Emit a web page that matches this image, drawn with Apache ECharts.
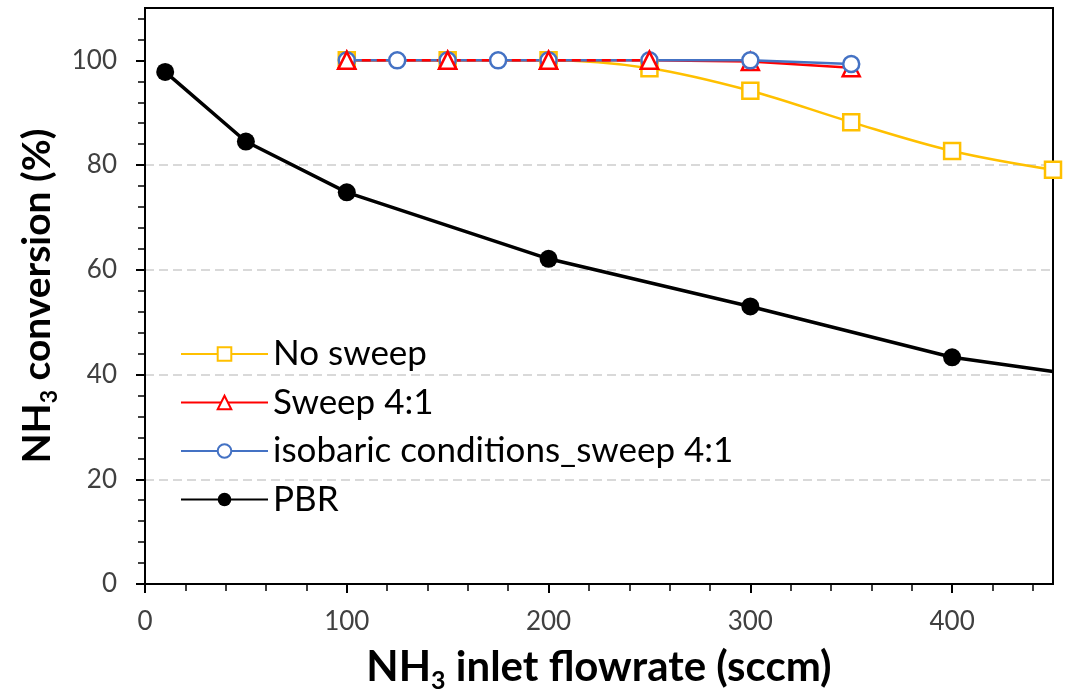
<!DOCTYPE html>
<html>
<head>
<meta charset="utf-8">
<script src="https://cdn.jsdelivr.net/npm/echarts@6/dist/echarts.min.js"></script>
<style>
html,body{margin:0;padding:0;background:#fff;}
#chart{width:1071px;height:698px;}
</style>
</head>
<body>
<div id="chart"></div>
<script>
// ---- data ----
const xTickLabels = [0, 100, 200, 300, 400];
const yTickLabels = [0, 20, 40, 60, 80, 100];
const xMinorTicks = [0, 20, 40, 60, 80, 100, 120, 140, 160, 180, 200, 220, 240, 260, 280, 300, 320, 340, 360, 380, 400, 420, 440];
const yMinorTicks = [0, 4, 8, 12, 16, 20, 24, 28, 32, 36, 40, 44, 48, 52, 56, 60, 64, 68, 72, 76, 80, 84, 88, 92, 96, 100, 104, 108];

const noSweepX = [100, 150, 200, 250, 300, 350, 400, 450];
const noSweepY = [100, 100, 100, 98.5, 94.2, 88.2, 82.7, 79.1];

const sweepX = [100, 150, 200, 250, 300, 350];
const sweepY = [100, 100, 100, 100, 99.8, 98.6];

const isoX = [100, 125, 150, 175, 200, 250, 300, 350];
const isoY = [100, 100, 100, 100, 100, 100, 100, 99.3];

const pbrX = [10, 50, 100, 200, 300, 400, 450];
const pbrY = [97.8, 84.5, 74.8, 62.1, 53.0, 43.3, 40.6];

const seriesNames = ['No sweep', 'Sweep 4:1', 'isobaric conditions_sweep 4:1', 'PBR'];

// ---- build ----
const FONT = 'Lato';
const zip = (xs, ys) => xs.map((x, i) => [x, ys[i]]);
const pbrData = zip(pbrX, pbrY).map((p, i, arr) => i === arr.length - 1 ? {value: p, symbol: 'none'} : p);

function nameRich(size) {
  const sub = Math.round(size * 0.6);
  return {
    b: {fontSize: size, fontWeight: 'bold', fontFamily: FONT, color: '#000', lineHeight: size, verticalAlign: 'top'},
    s: {fontSize: sub, fontWeight: 'bold', fontFamily: FONT, color: '#000', lineHeight: sub, verticalAlign: 'top', padding: [Math.round(size * 0.52), 0, 0, 0]}
  };
}

const chart = echarts.init(document.getElementById('chart'), null, {renderer: 'canvas'});
chart.setOption({
  animation: false,
  backgroundColor: '#fff',
  grid: {left: 145, right: 18, top: 8, bottom: 113, show: true, borderColor: '#000', borderWidth: 2, backgroundColor: 'transparent'},
  legend: {
    orient: 'vertical', left: 175, top: 329, itemGap: 8.5,
    itemWidth: 87, itemHeight: 17,
    data: seriesNames,
    textStyle: {fontSize: 35, fontFamily: FONT, color: '#000', lineHeight: 40},
    selectedMode: false
  },
  xAxis: [{
    type: 'value', min: 0, max: 450, interval: 100,
    name: '{b|NH}{s|3}{b| inlet flowrate (sccm)}',
    nameLocation: 'middle', nameGap: 62,
    nameTextStyle: {rich: nameRich(42)},
    axisLine: {show: true, lineStyle: {color: '#000', width: 2}},
    axisTick: {show: true, inside: false, length: 9, customValues: xTickLabels, lineStyle: {color: '#000', width: 2}},
    axisLabel: {customValues: xTickLabels, fontSize: 26, fontFamily: FONT, color: '#404040', margin: 25},
    splitLine: {show: false}
  }, {
    type: 'value', min: 0, max: 450, position: 'bottom',
    axisLine: {show: false},
    axisTick: {show: true, inside: false, length: 7, customValues: xMinorTicks, lineStyle: {color: '#000', width: 1.5}},
    axisLabel: {show: false},
    splitLine: {show: false}
  }],
  yAxis: [{
    type: 'value', min: 0, max: 110, interval: 20,
    name: '{b|NH}{s|3}{b| conversion (%)}',
    nameLocation: 'middle', nameGap: 84,
    nameTextStyle: {rich: nameRich(39)},
    axisLine: {show: true, lineStyle: {color: '#000', width: 2}},
    axisTick: {show: true, inside: false, length: 9, customValues: yTickLabels, lineStyle: {color: '#000', width: 2}},
    axisLabel: {customValues: yTickLabels, fontSize: 26, fontFamily: FONT, color: '#404040', margin: 28},
    splitLine: {show: true, showMinLine: false, showMaxLine: false, lineStyle: {color: '#d9d9d9', width: 2, type: [9, 5]}}
  }, {
    type: 'value', min: 0, max: 110, position: 'left',
    axisLine: {show: false},
    axisTick: {show: true, inside: false, length: 7, customValues: yMinorTicks, lineStyle: {color: '#000', width: 1.5}},
    axisLabel: {show: false},
    splitLine: {show: false}
  }],
  series: [
    {
      name: 'No sweep', type: 'line', smooth: 0.35,
      data: zip(noSweepX, noSweepY),
      symbol: 'rect', symbolSize: 16,
      itemStyle: {color: '#fff', borderColor: '#FFC000', borderWidth: 2.5},
      lineStyle: {color: '#FFC000', width: 2.5}
    },
    {
      name: 'Sweep 4:1', type: 'line',
      data: zip(sweepX, sweepY),
      symbol: 'triangle', symbolSize: 17,
      itemStyle: {color: '#fff', borderColor: '#FF0000', borderWidth: 2.5},
      lineStyle: {color: '#FF0000', width: 2.5}
    },
    {
      name: 'isobaric conditions_sweep 4:1', type: 'line',
      data: zip(isoX, isoY),
      symbol: 'circle', symbolSize: 16,
      itemStyle: {color: '#fff', borderColor: '#4472C4', borderWidth: 2.5},
      lineStyle: {color: '#4472C4', width: 2.5}
    },
    {
      name: 'Sweep 4:1', type: 'line',
      data: zip(sweepX.slice(0, 4), sweepY.slice(0, 4)),
      symbol: 'triangle', symbolSize: 17,
      itemStyle: {color: '#fff', borderColor: '#FF0000', borderWidth: 2.5},
      lineStyle: {color: '#FF0000', width: 2.5, type: [9, 6]}
    },
    {
      name: 'PBR', type: 'line',
      data: pbrData,
      symbol: 'circle', symbolSize: 18,
      itemStyle: {color: '#000', borderColor: '#000', borderWidth: 0},
      lineStyle: {color: '#000', width: 3.5}
    }
  ]
});
</script>
</body>
</html>
